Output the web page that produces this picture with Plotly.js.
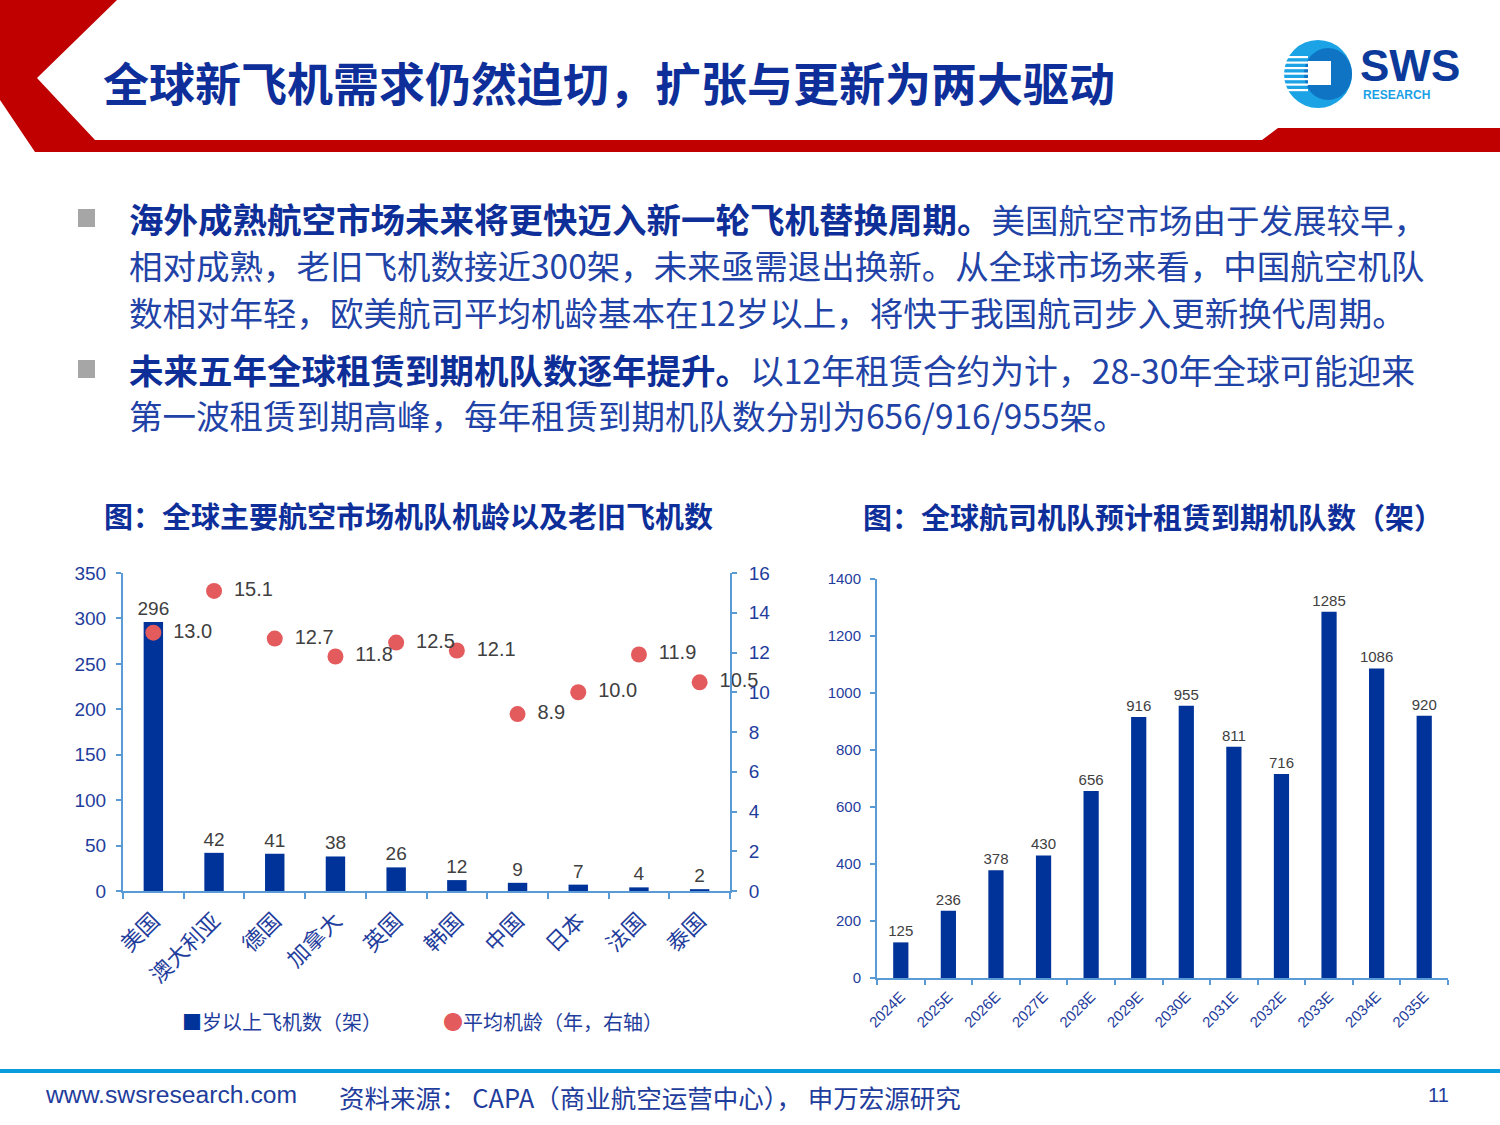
<!DOCTYPE html>
<html>
<head>
<meta charset="utf-8">
<script src="https://cdn.plot.ly/plotly-3.0.1.min.js"></script>
<style>html,body{margin:0;padding:0;background:#fff;}#chart{width:1500px;height:1125px;}</style>
</head>
<body>
<div id="chart"></div>
<script>
// ---- data ----
const countries = ['美国','澳大利亚','德国','加拿大','英国','韩国','中国','日本','法国','泰国'];
const oldPlanes = [296,42,41,38,26,12,9,7,4,2];
const avgAge = [13.0,15.1,12.7,11.8,12.5,12.1,8.9,10.0,11.9,10.5];
const years = ['2024E','2025E','2026E','2027E','2028E','2029E','2030E','2031E','2032E','2033E','2034E','2035E'];
const leaseExpiry = [125,236,378,430,656,916,955,811,716,1285,1086,920];

const W = 1500, H = 1125;
const px = x => x / W;
const py = y => 1 - y / H;

const BLUE = '#1F3D9C';
const NAVY = '#003399';
const AXIS = '#5B9BD5';
const LABEL = '#404040';
const RED = '#E45B5E';
const CJK = '"Noto Sans CJK SC", "Microsoft YaHei", sans-serif';
const NUM = '"Liberation Sans", Arial, "Noto Sans CJK SC", sans-serif';

const traces = [
  {
    type: 'bar', x: countries, y: oldPlanes, xaxis: 'x', yaxis: 'y',
    marker: {color: NAVY}, width: 0.32,
    text: oldPlanes.map(String), textposition: 'outside', cliponaxis: false, constraintext: 'none',
    textfont: {family: NUM, size: 19, color: LABEL},
    showlegend: false, hoverinfo: 'x+y'
  },
  {
    type: 'scatter', mode: 'markers+text', x: countries, y: avgAge, xaxis: 'x', yaxis: 'y2',
    marker: {color: RED, size: 16},
    text: avgAge.map(v => '&nbsp;\u2006' + v.toFixed(1)), textposition: 'middle right', cliponaxis: false,
    textfont: {family: NUM, size: 20, color: LABEL},
    showlegend: false
  },
  {
    type: 'bar', x: years, y: leaseExpiry, xaxis: 'x2', yaxis: 'y3',
    marker: {color: NAVY}, width: 0.32,
    text: leaseExpiry.map(String), textposition: 'outside', cliponaxis: false, constraintext: 'none',
    textfont: {family: NUM, size: 15, color: LABEL},
    showlegend: false
  }
];

const ann = [];
function addText(x, y, text, size, color, opts) {
  ann.push(Object.assign({
    xref: 'paper', yref: 'paper', x: px(x), y: py(y), text: text, showarrow: false,
    xanchor: 'left', yanchor: 'middle', font: {family: CJK, size: size, color: color}
  }, opts || {}));
}

// header title
addText(101, 81, '<b>全球新飞机需求仍然迫切，扩张与更新为两大驱动</b>', 46, '#0E2F9A');
// logo text
addText(1358, 66, '<b>SWS</b>', 44, '#0B3A9B', {font: {family: '"Liberation Sans", Arial, sans-serif', size: 44, color: '#0B3A9B'}});
addText(1361, 95, '<b>RESEARCH</b>', 12, '#1AA0E6', {font: {family: '"Liberation Sans", Arial, sans-serif', size: 12, color: '#1AA0E6'}});

// body text
const BODY = 33.5, BCOL = '#2142A6', BBOLD = '#0E2E98';
const b = s => '<b><span style="color:' + BBOLD + ';font-size:34.5px">' + s + '</span></b>';
addText(127, 218, b('海外成熟航空市场未来将更快迈入新一轮飞机替换周期。') + '美国航空市场由于发展较早，', BODY, BCOL);
addText(127, 265, '相对成熟，老旧飞机数接近300架，未来亟需退出换新。从全球市场来看，中国航空机队', BODY, BCOL);
addText(127, 311, '数相对年轻，欧美航司平均机龄基本在12岁以上，将快于我国航司步入更新换代周期。', BODY, BCOL);
addText(127, 369, b('未来五年全球租赁到期机队数逐年提升。') + '以12年租赁合约为计，28-30年全球可能迎来', 33.8, BCOL);
addText(127, 414, '第一波租赁到期高峰，每年租赁到期机队数分别为656/916/955架。', BODY, BCOL);

// chart titles
addText(102, 515, '<b>图：全球主要航空市场机队机龄以及老旧飞机数</b>', 29, '#0E2F9A');
addText(861, 516, '<b>图：全球航司机队预计租赁到期机队数（架）</b>', 29, '#0E2F9A');

// left legend
addText(180, 1021, '<span style="color:' + NAVY + '">■</span>岁以上飞机数（架）', 20, BLUE);
addText(441, 1021, '<span style="color:' + RED + '">●</span>平均机龄（年，右轴）', 20, BLUE);

// footer
addText(43, 1094, 'www.swsresearch.com', 24.7, BLUE, {font: {family: NUM, size: 24.7, color: BLUE}});
addText(337, 1096, '资料来源： CAPA（商业航空运营中心）， 申万宏源研究', 25.5, BLUE);
addText(1426, 1095, '11', 20, BLUE, {font: {family: NUM, size: 20, color: BLUE}});

const shapes = [];
function poly(points, color) {
  const d = points.map((p, i) => (i ? 'L' : 'M') + px(p[0]) + ',' + py(p[1])).join(' ') + ' Z';
  shapes.push({type: 'path', xref: 'paper', yref: 'paper', path: d, fillcolor: color, line: {width: 0}, layer: 'above'});
}
function rect(x0, y0, x1, y1, color, layer) {
  shapes.push({type: 'rect', xref: 'paper', yref: 'paper', x0: px(x0), x1: px(x1), y0: py(y1), y1: py(y0),
    fillcolor: color, line: {width: 0}, layer: layer || 'above'});
}
// red header decoration
const DRED = '#C00000';
poly([[0,0],[117,0],[37,78],[95,140],[1262,140],[1278,128],[1500,128],[1500,152],[35,152],[0,100]], DRED);
// bullets
rect(78, 209, 95, 227, '#A6A6A6');
rect(78, 360, 95, 378, '#A6A6A6');
// footer line
rect(0, 1069, 1500, 1073, '#0A9CDD');
// logo
shapes.push({type: 'circle', xref: 'paper', yref: 'paper', x0: px(1284), x1: px(1352), y0: py(108), y1: py(40),
  fillcolor: '#1BA3E6', line: {width: 0}, layer: 'above'});
shapes.push({type: 'circle', xref: 'paper', yref: 'paper', x0: px(1304), x1: px(1352), y0: py(100), y1: py(48),
  fillcolor: '#0F74C4', line: {width: 0}, layer: 'above'});
rect(1308, 61, 1331, 85, '#FFFFFF');
for (let i = 0; i < 7; i++) {
  const yy = 56 + i * 5.5;
  rect(1284, yy, 1308, yy + 2.2, '#FFFFFF');
}

const layout = {
  width: W, height: H,
  margin: {l: 0, r: 0, t: 0, b: 0},
  paper_bgcolor: '#FFFFFF', plot_bgcolor: 'rgba(0,0,0,0)',
  showlegend: false,
  bargap: 0.68,
  font: {family: NUM, color: BLUE},
  xaxis: {
    domain: [px(123), px(730)], anchor: 'y', type: 'category', range: [-0.5, countries.length - 0.5],
    showline: true, linecolor: AXIS, linewidth: 2,
    ticks: 'outside', tickson: 'boundaries', ticklen: 6, tickcolor: AXIS, tickwidth: 2,
    tickangle: -45, tickfont: {family: CJK, size: 22, color: BLUE}, ticklabelstandoff: 6,
    showgrid: false, zeroline: false, fixedrange: true
  },
  yaxis: {
    domain: [py(891), py(573)], anchor: 'x', range: [0, 350], dtick: 50,
    showline: true, linecolor: AXIS, linewidth: 2,
    ticks: 'outside', ticklen: 5, tickcolor: AXIS, tickwidth: 2, ticklabelstandoff: 6,
    tickfont: {family: NUM, size: 19, color: BLUE},
    showgrid: false, zeroline: false
  },
  yaxis2: {
    overlaying: 'y', side: 'right', anchor: 'x', range: [0, 16], dtick: 2,
    showline: true, linecolor: AXIS, linewidth: 2,
    ticks: 'outside', ticklen: 5, tickcolor: AXIS, tickwidth: 2, ticklabelstandoff: 8,
    tickfont: {family: NUM, size: 19, color: BLUE},
    showgrid: false, zeroline: false
  },
  xaxis2: {
    domain: [px(877), px(1448)], anchor: 'y3', type: 'category', range: [-0.5, years.length - 0.5],
    showline: true, linecolor: AXIS, linewidth: 2,
    ticks: 'outside', tickson: 'boundaries', ticklen: 5, tickcolor: AXIS, tickwidth: 2,
    tickangle: -45, tickfont: {family: NUM, size: 15, color: BLUE}, ticklabelstandoff: 2,
    showgrid: false, zeroline: false
  },
  yaxis3: {
    domain: [py(978), py(579)], anchor: 'x2', range: [0, 1400], dtick: 200,
    showline: true, linecolor: AXIS, linewidth: 2,
    ticks: 'outside', ticklen: 5, tickcolor: AXIS, tickwidth: 2, ticklabelstandoff: 6,
    tickfont: {family: NUM, size: 15, color: BLUE},
    showgrid: false, zeroline: false
  },
  annotations: ann,
  shapes: shapes
};

Plotly.newPlot('chart', traces, layout, {staticPlot: true, displayModeBar: false});
</script>
</body>
</html>
